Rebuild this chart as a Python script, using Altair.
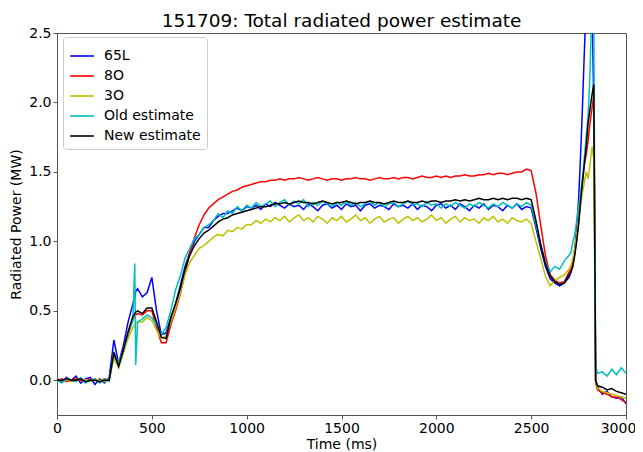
import altair as alt
import pandas as pd

# sampling times (ms)
times = (list(range(0, 300, 25))
         + [300, 325, 350, 375, 400, 410, 415, 425, 450, 475, 500, 525, 550, 575]
         + list(range(600, 1001, 25))
         + list(range(1025, 2501, 25))
         + list(range(2525, 2701, 25))
         + list(range(2710, 2851, 10))
         + list(range(2875, 3001, 25)))

series_names = ["65L", "8O", "3O", "Old estimate", "New estimate"]
series_colors = ["#0000ff", "#ff0000", "#bfbf00", "#00bfbf", "#000000"]

blue = ([0.01, -0.01, 0.02, 0.00, 0.03, -0.02, 0.01, 0.02, -0.03, 0.01, -0.02, 0.02]
        + [0.29, 0.12, 0.25, 0.42, 0.55, 0.6, 0.64, 0.66, 0.6, 0.63, 0.74, 0.5, 0.33, 0.34]
        + [0.45, 0.55, 0.68, 0.82, 0.92, 1.0, 1.05, 1.1, 1.1, 1.15, 1.18, 1.2, 1.2, 1.22, 1.24, 1.22, 1.25]
        + [1.24, 1.26, 1.23, 1.27, 1.25, 1.28, 1.26, 1.24, 1.27, 1.25,
           1.26, 1.23, 1.27, 1.25, 1.22, 1.26, 1.27, 1.24, 1.26, 1.23,
           1.27, 1.25, 1.26, 1.22, 1.26, 1.27, 1.24, 1.26, 1.25, 1.23,
           1.27, 1.25, 1.26, 1.24, 1.27, 1.23, 1.26, 1.25, 1.22, 1.26,
           1.27, 1.24, 1.26, 1.23, 1.27, 1.25, 1.22, 1.26, 1.24, 1.27,
           1.23, 1.26, 1.25, 1.22, 1.26, 1.24, 1.27, 1.23, 1.25, 1.24]
        + [1.1, 0.95, 0.82, 0.73, 0.7, 0.68, 0.7, 0.74]
        + [0.78, 0.85, 0.95, 1.1, 1.3, 1.6, 1.95, 2.35, 2.7, 2.9, 2.95, 2.8, 2.0, 0.0, -0.05]
        + [-0.1, -0.08, -0.12, -0.13, -0.12, -0.17])

red = ([0.00, 0.01, -0.01, 0.00, 0.01, 0.00, -0.01, 0.01, 0.00, -0.01, 0.01, 0.00]
       + [0.18, 0.1, 0.2, 0.33, 0.44, 0.46, 0.47, 0.48, 0.47, 0.5, 0.5, 0.38, 0.27, 0.27]
       + [0.4, 0.5, 0.62, 0.77, 0.92, 1.03, 1.12, 1.19, 1.24, 1.27, 1.3, 1.32, 1.34, 1.36, 1.37, 1.39, 1.40]
       + [1.41, 1.42, 1.43, 1.43, 1.44, 1.44, 1.45, 1.44, 1.45, 1.45,
          1.46, 1.45, 1.44, 1.45, 1.46, 1.45, 1.44, 1.45, 1.45, 1.44,
          1.45, 1.45, 1.46, 1.45, 1.45, 1.44, 1.45, 1.46, 1.45, 1.45,
          1.46, 1.45, 1.46, 1.46, 1.45, 1.46, 1.47, 1.46, 1.46, 1.47,
          1.46, 1.47, 1.46, 1.47, 1.47, 1.48, 1.47, 1.47, 1.48, 1.48,
          1.49, 1.48, 1.49, 1.49, 1.48, 1.49, 1.50, 1.50, 1.52, 1.51]
       + [1.35, 1.12, 0.9, 0.76, 0.72, 0.7, 0.71, 0.78]
       + [0.8, 0.84, 0.92, 1.02, 1.14, 1.28, 1.42, 1.55, 1.62, 1.72, 1.85, 1.95, 2.05, -0.02, -0.07]
       + [-0.09, -0.1, -0.12, -0.12, -0.14, -0.16])

yellow = ([-0.01, 0.00, 0.01, -0.01, 0.00, 0.01, 0.00, -0.01, 0.01, 0.00, -0.01, 0.01]
          + [0.16, 0.09, 0.2, 0.3, 0.38, 0.4, 0.41, 0.42, 0.42, 0.45, 0.43, 0.36, 0.3, 0.32]
          + [0.42, 0.52, 0.63, 0.76, 0.85, 0.9, 0.95, 0.97, 1.0, 1.03, 1.05, 1.04, 1.08, 1.07, 1.1, 1.09, 1.12]
          + [1.12, 1.15, 1.13, 1.16, 1.14, 1.17, 1.15, 1.18, 1.14, 1.17,
             1.19, 1.15, 1.17, 1.14, 1.18, 1.16, 1.13, 1.17, 1.15, 1.18,
             1.14, 1.16, 1.19, 1.15, 1.17, 1.13, 1.16, 1.18, 1.14, 1.16,
             1.17, 1.13, 1.16, 1.18, 1.15, 1.17, 1.14, 1.16, 1.19, 1.15,
             1.17, 1.13, 1.16, 1.18, 1.14, 1.17, 1.15, 1.16, 1.13, 1.17,
             1.15, 1.18, 1.14, 1.16, 1.13, 1.17, 1.15, 1.14, 1.16, 1.13]
          + [1.0, 0.88, 0.75, 0.68, 0.72, 0.74, 0.76, 0.8]
          + [0.83, 0.88, 0.95, 1.05, 1.15, 1.25, 1.35, 1.42, 1.5, 1.45, 1.55, 1.68, 1.6, 0.0, -0.06]
          + [-0.08, -0.09, -0.1, -0.11, -0.12, -0.13])

cyan = ([0.00, -0.02, 0.01, 0.00, -0.01, 0.02, -0.02, 0.00, 0.01, -0.02, 0.01, -0.01]
        + [0.2, 0.12, 0.22, 0.34, 0.43, 0.84, 0.11, 0.42, 0.44, 0.47, 0.45, 0.4, 0.33, 0.38]
        + [0.5, 0.65, 0.75, 0.88, 0.95, 1.02, 1.05, 1.1, 1.12, 1.15, 1.2, 1.17, 1.22, 1.2, 1.25, 1.22, 1.26]
        + [1.24, 1.28, 1.25, 1.27, 1.29, 1.25, 1.28, 1.30, 1.26, 1.29,
           1.27, 1.30, 1.25, 1.28, 1.26, 1.29, 1.27, 1.25, 1.28, 1.26,
           1.29, 1.26, 1.28, 1.25, 1.27, 1.29, 1.26, 1.28, 1.25, 1.27,
           1.28, 1.25, 1.27, 1.29, 1.26, 1.27, 1.25, 1.28, 1.26, 1.27,
           1.24, 1.27, 1.25, 1.28, 1.26, 1.24, 1.27, 1.25, 1.28, 1.26,
           1.24, 1.27, 1.25, 1.28, 1.26, 1.24, 1.27, 1.25, 1.28, 1.26]
        + [1.12, 0.98, 0.85, 0.78, 0.82, 0.8, 0.86, 0.9]
        + [0.92, 1.0, 1.05, 1.15, 1.25, 1.35, 1.45, 1.6, 1.75, 1.9, 2.2, 2.7, 2.6, 0.1, 0.05]
        + [0.06, 0.03, 0.08, 0.04, 0.09, 0.05])

black = ([0.00, 0.00, 0.01, 0.00, 0.00, 0.01, -0.01, 0.00, 0.00, -0.01, 0.00, 0.00]
         + [0.2, 0.1, 0.22, 0.35, 0.46, 0.48, 0.49, 0.5, 0.48, 0.52, 0.52, 0.42, 0.31, 0.3]
         + [0.45, 0.55, 0.66, 0.8, 0.9, 0.97, 1.02, 1.06, 1.08, 1.11, 1.14, 1.16, 1.17, 1.19, 1.2, 1.21, 1.22]
         + [1.23, 1.24, 1.25, 1.25, 1.26, 1.27, 1.27, 1.28, 1.27, 1.28,
            1.29, 1.28, 1.28, 1.27, 1.28, 1.29, 1.28, 1.27, 1.28, 1.28,
            1.29, 1.28, 1.27, 1.28, 1.28, 1.29, 1.28, 1.28, 1.27, 1.28,
            1.29, 1.28, 1.28, 1.29, 1.28, 1.28, 1.29, 1.28, 1.29, 1.29,
            1.28, 1.29, 1.29, 1.30, 1.29, 1.30, 1.29, 1.30, 1.31, 1.30,
            1.30, 1.31, 1.30, 1.31, 1.30, 1.31, 1.31, 1.30, 1.31, 1.30]
         + [1.15, 0.98, 0.84, 0.75, 0.71, 0.69, 0.7, 0.76]
         + [0.78, 0.82, 0.9, 1.0, 1.12, 1.28, 1.42, 1.55, 1.68, 1.85, 1.95, 2.05, 2.13, 0.0, -0.04]
         + [-0.05, -0.07, -0.06, -0.08, -0.09, -0.1])

all_values = [blue, red, yellow, cyan, black]
for v in all_values:
    assert len(v) == len(times), (len(v), len(times))

frames = []
for name, vals in zip(series_names, all_values):
    frames.append(pd.DataFrame({"time": times, "power": vals, "series": name}))

color_scale = alt.Scale(domain=series_names, range=series_colors)

layers = []
for i, df in enumerate(frames):
    enc = dict(
        x=alt.X("time:Q", title="Time (ms)",
                scale=alt.Scale(domain=[0, 3000], nice=False, zero=False),
                axis=alt.Axis(values=[0, 500, 1000, 1500, 2000, 2500, 3000], format="d",
                              labelFlush=False,
                              labelOffset={"expr": "datum.value == 3000 ? -8 : 0"})),
        y=alt.Y("power:Q", title="Radiated Power (MW)",
                scale=alt.Scale(domain=[-0.25, 2.5], nice=False, zero=False),
                axis=alt.Axis(values=[0, 0.5, 1.0, 1.5, 2.0, 2.5], format=".1f",
                              labelFlush=False)),
        color=alt.Color("series:N", scale=color_scale,
                        legend=alt.Legend(title=None, orient="none", legendX=6, legendY=4,
                                          symbolType="stroke", symbolSize=560,
                                          symbolStrokeWidth=1.6,
                                          labelFontSize=14, labelFont="DejaVu Sans",
                                          labelColor="black", labelOffset=9,
                                          rowPadding=-3.5, padding=6,
                                          strokeColor="#cccccc", fillColor="white",
                                          cornerRadius=3)),
        order=alt.Order("time:Q"),
    )
    layers.append(alt.Chart(df).mark_line(strokeWidth=1.5, clip=True).encode(**enc))

chart = alt.layer(*layers).properties(
    width=569, height=382,
    title=alt.TitleParams("151709: Total radiated power estimate", fontSize=18.5,
                          fontWeight="normal", font="DejaVu Sans", color="black",
                          offset=-4),
    autosize=alt.AutoSizeParams(type="none"),
    padding={"left": 49, "top": 25, "right": 9, "bottom": 36},
).configure_axis(
    labelFont="DejaVu Sans", titleFont="DejaVu Sans", labelFontSize=14, titleFontSize=14,
    titleFontWeight="normal", labelColor="black", titleColor="black",
    domainColor="#555555", tickColor="#555555", tickSize=4, grid=False,
).configure_axisY(titlePadding=5).configure_axisX(titlePadding=2).configure_view(
    stroke="#555555", strokeWidth=1
)

chart.save("out.html", embed_options={"renderer": "svg", "actions": False})
